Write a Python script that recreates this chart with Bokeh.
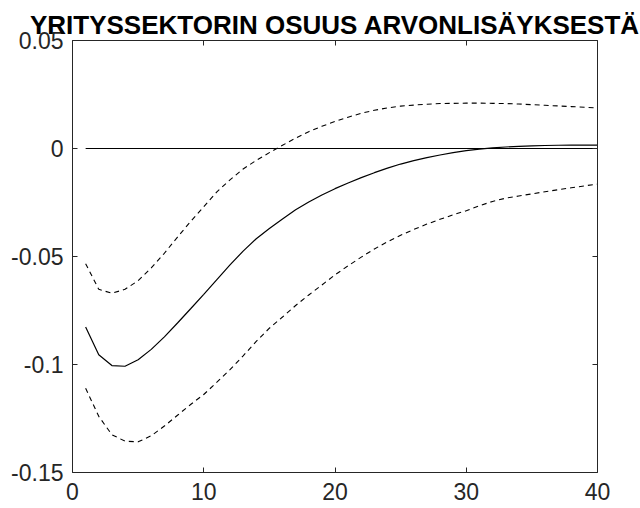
from bokeh.plotting import figure
from bokeh.models import Range1d, LinearAxis, FixedTicker
from bokeh.embed import file_html
from bokeh.resources import INLINE

# ---- data ----
horizon = list(range(1, 41))

irf = [-0.0826, -0.0955, -0.1005, -0.1008, -0.0978, -0.0930, -0.0872, -0.0808,
       -0.0742, -0.0675, -0.0607, -0.0539, -0.0475, -0.0418, -0.0370, -0.0326,
       -0.0284, -0.0248, -0.0215, -0.0186, -0.0160, -0.0135, -0.0112, -0.0091,
       -0.0072, -0.0056, -0.0042, -0.0030, -0.0019, -0.0010, -0.0003, 0.0003,
       0.0007, 0.0010, 0.0012, 0.0014, 0.0015, 0.0016, 0.0016, 0.0016]

upper = [-0.0533, -0.0652, -0.0670, -0.0652, -0.0612, -0.0553, -0.0485, -0.0410,
         -0.0338, -0.0270, -0.0201, -0.0145, -0.0095, -0.0055, -0.0019, 0.0015,
         0.0048, 0.0078, 0.0103, 0.0125, 0.0145, 0.0163, 0.0177, 0.0188,
         0.0196, 0.0201, 0.0205, 0.0208, 0.0209, 0.0210, 0.0210, 0.0209,
         0.0208, 0.0206, 0.0203, 0.0200, 0.0197, 0.0194, 0.0191, 0.0188]

lower = [-0.1110, -0.1240, -0.1325, -0.1355, -0.1358, -0.1330, -0.1285, -0.1235,
         -0.1185, -0.1139, -0.1082, -0.1024, -0.0960, -0.0893, -0.0832, -0.0780,
         -0.0727, -0.0678, -0.0632, -0.0585, -0.0543, -0.0503, -0.0465, -0.0432,
         -0.0402, -0.0375, -0.0350, -0.0328, -0.0307, -0.0288, -0.0265, -0.0245,
         -0.0230, -0.0220, -0.0210, -0.0200, -0.0191, -0.0182, -0.0173, -0.0165]

baseline = [0.0] * 40

x_ticks = [0, 10, 20, 30, 40]
y_ticks = [-0.15, -0.1, -0.05, 0, 0.05]
y_tick_labels = ["-0.15", "-0.1", "-0.05", "0", "0.05"]
title_text = "YRITYSSEKTORIN OSUUS ARVONLISÄYKSESTÄ"

# ---- style ----
AX = "#262626"
FONT = "Liberation Sans"

p = figure(width=640, height=508, output_backend="svg", toolbar_location=None,
           x_range=Range1d(0, 40), y_range=Range1d(-0.15, 0.05),
           min_border_left=72, min_border_right=43, min_border_top=40,
           min_border_bottom=36, x_axis_type=None, y_axis_type=None)
p.outline_line_color = None
p.background_fill_color = "white"
p.border_fill_color = "white"

p.title.text = title_text
p.title.align = "center"
p.title.text_font = FONT
p.title.text_font_size = "26px"
p.title.text_font_style = "bold"
p.title.text_color = "black"
p.title.standoff = 2
p.title.offset = 0


def style_axis(ax, ticks, labels=True):
    ax.ticker = FixedTicker(ticks=ticks)
    ax.axis_line_color = AX
    ax.axis_line_width = 1
    ax.major_tick_line_color = AX
    ax.major_tick_in = 5
    ax.major_tick_out = 0
    ax.minor_tick_line_color = None
    ax.major_label_text_font = FONT
    ax.major_label_text_color = AX
    ax.major_label_text_font_size = "23px"
    if not labels:
        ax.major_label_overrides = {t: "" for t in ticks}
        ax.major_label_standoff = 0


xb = LinearAxis()
style_axis(xb, x_ticks)
xb.major_label_standoff = 10
p.add_layout(xb, "below")

yl = LinearAxis()
style_axis(yl, y_ticks)
yl.major_label_standoff = 9
yl.major_label_overrides = dict(zip(y_ticks, y_tick_labels))
p.add_layout(yl, "left")

xt = LinearAxis()
style_axis(xt, x_ticks, labels=False)
p.add_layout(xt, "above")

yr = LinearAxis()
style_axis(yr, y_ticks, labels=False)
p.add_layout(yr, "right")

p.line(horizon, baseline, line_color="black", line_width=1.1)
p.line(horizon, upper, line_color="black", line_width=1.1, line_dash="5 4")
p.line(horizon, lower, line_color="black", line_width=1.1, line_dash="5 4")
p.line(horizon, irf, line_color="black", line_width=1.2)

open("out.html", "w").write(file_html(p, INLINE))
